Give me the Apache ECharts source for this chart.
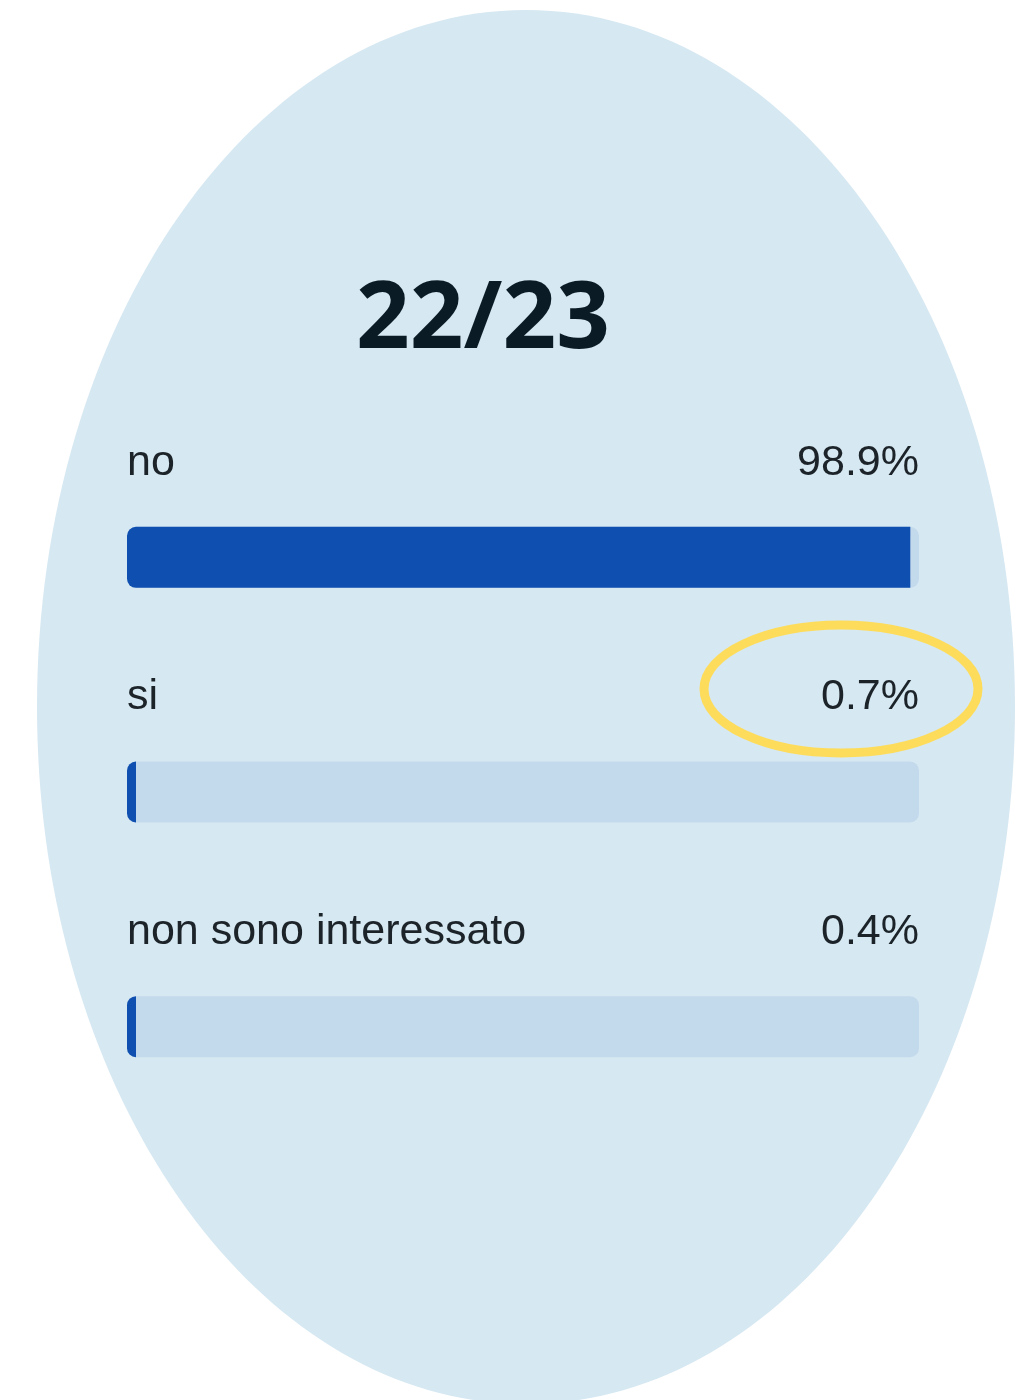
<!DOCTYPE html>
<html>
<head>
<meta charset="utf-8">
<script src="https://cdn.jsdelivr.net/npm/echarts@6/dist/echarts.min.js"></script>
<style>
html, body { margin: 0; padding: 0; background: #fff; }
#chart { width: 1027px; height: 1400px; }
</style>
</head>
<body>
<div id="chart"></div>
<script>
// risposte (stagione 22/23)
var categories = ['no', 'si', 'non sono interessato'];
var percentages = [98.9, 0.7, 0.4];
var fullTrack = [100, 100, 100];
var titleText = '22/23';

var chart = echarts.init(document.getElementById('chart'));

var option = {
    backgroundColor: '#ffffff',
    animation: false,
    graphic: [
        { // ovale di sfondo
            type: 'ellipse',
            z: -10,
            shape: { cx: 526, cy: 707, rx: 489, ry: 697 },
            style: { fill: '#d6e8f2' }
        },
        {
            type: 'text',
            x: 483, y: 321,
            style: {
                text: titleText,
                font: 'bold 94px "Open Sans"',
                fill: '#0b1b26',
                textAlign: 'center',
                textVerticalAlign: 'middle'
            }
        },
        { // cerchio giallo intorno a 0.7%
            type: 'ellipse',
            z: 10,
            shape: { cx: 841, cy: 689, rx: 137, ry: 64 },
            style: { fill: 'none', stroke: '#fedc5b', lineWidth: 9 }
        }
    ],
    grid: { left: 127, width: 792, top: 440, height: 704 },
    xAxis: { type: 'value', min: 0, max: 100, show: false },
    yAxis: { type: 'category', data: categories, inverse: true, show: false },
    series: [
        {
            type: 'bar',
            data: fullTrack,
            barWidth: 61,
            barGap: '-100%',
            silent: true,
            itemStyle: { color: '#c3d9ec', borderRadius: 9 },
            label: {
                show: true,
                position: ['100%', -64],
                align: 'right',
                verticalAlign: 'middle',
                fontFamily: 'Liberation Sans',
                fontSize: 43,
                color: '#1c2329',
                formatter: function (p) { return percentages[p.dataIndex] + '%' }
            }
        },
        {
            type: 'bar',
            data: percentages,
            barWidth: 61,
            barMinHeight: 9,
            itemStyle: { color: '#0e4faf', borderRadius: [9, 0, 0, 9] },
            label: {
                show: true,
                position: [0, -64],
                align: 'left',
                verticalAlign: 'middle',
                fontFamily: 'Liberation Sans',
                fontSize: 43,
                color: '#1c2329',
                formatter: '{b}'
            }
        }
    ]
};

chart.setOption(option);
</script>
</body>
</html>
